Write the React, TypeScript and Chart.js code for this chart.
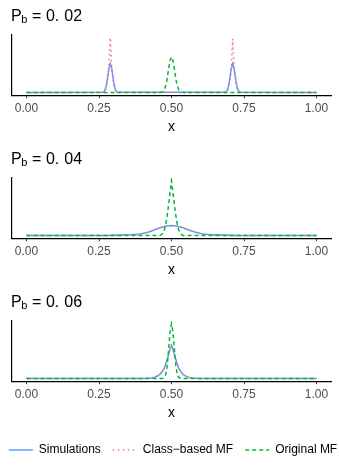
import React, { useEffect, useRef } from "react";
import { Chart, registerables } from "chart.js";

Chart.register(...registerables);

const FONT = "'Liberation Sans', Arial, Helvetica, sans-serif";

const xTicks = [0, 0.25, 0.5, 0.75, 1];
const panelLabels = ["0. 02", "0. 04", "0. 06"];
const seriesNames = ["Simulations", "Class\u2212based MF", "Original MF"];
const seriesColors = ["#619CFF", "#F8766D", "#00BA38"];

// Panel 1 (P_b = 0.02)
const sim1X = [0, 0.264, 0.269, 0.274, 0.279, 0.284, 0.289, 0.294, 0.299, 0.304, 0.309, 0.314, 0.686, 0.691, 0.696, 0.701, 0.706, 0.711, 0.716, 0.721, 0.726, 0.731, 0.736, 1];
const sim1Y = [0, 0.003, 0.026, 0.1, 0.25, 0.436, 0.525, 0.436, 0.25, 0.1, 0.026, 0.003, 0.003, 0.026, 0.1, 0.25, 0.436, 0.525, 0.436, 0.25, 0.1, 0.026, 0.003, 0];
const class1X = [0, 0.264, 0.269, 0.274, 0.279, 0.284, 0.289, 0.294, 0.299, 0.304, 0.309, 0.314, 0.686, 0.691, 0.696, 0.701, 0.706, 0.711, 0.716, 0.721, 0.726, 0.731, 0.736, 1];
const class1Y = [0, 0, 0.02, 0.07, 0.2, 0.45, 1.0, 0.45, 0.2, 0.07, 0.02, 0, 0, 0.02, 0.07, 0.2, 0.45, 0.98, 0.45, 0.2, 0.07, 0.02, 0, 0];
const orig1X = [0, 0.46, 0.465, 0.47, 0.475, 0.48, 0.485, 0.49, 0.495, 0.5, 0.505, 0.51, 0.515, 0.52, 0.525, 0.53, 0.535, 0.54, 1];
const orig1Y = [0, 0, 0.004, 0.016, 0.05, 0.12, 0.25, 0.43, 0.585, 0.65, 0.585, 0.43, 0.25, 0.12, 0.05, 0.016, 0.004, 0, 0];

// Panel 2 (P_b = 0.04)
const sim2X = [0, 0.28, 0.3, 0.32, 0.34, 0.36, 0.38, 0.4, 0.42, 0.44, 0.46, 0.48, 0.5, 0.52, 0.54, 0.56, 0.58, 0.6, 0.62, 0.64, 0.66, 0.68, 0.7, 0.72, 1];
const sim2Y = [0, 0, 0.005, 0.01, 0.012, 0.014, 0.02, 0.035, 0.06, 0.1, 0.14, 0.17, 0.18, 0.17, 0.14, 0.1, 0.062, 0.035, 0.02, 0.014, 0.012, 0.01, 0.005, 0, 0];
const class2X = [0, 0.28, 0.3, 0.32, 0.34, 0.36, 0.38, 0.4, 0.42, 0.44, 0.46, 0.48, 0.5, 0.52, 0.54, 0.56, 0.58, 0.6, 0.62, 0.64, 0.66, 0.68, 0.7, 0.72, 1];
const class2Y = [0, 0, 0, 0, 0.004, 0.008, 0.015, 0.03, 0.06, 0.1, 0.14, 0.165, 0.175, 0.165, 0.14, 0.1, 0.065, 0.035, 0.015, 0.006, 0.002, 0, 0, 0, 0];
const orig2X = [0, 0.455, 0.46, 0.465, 0.47, 0.475, 0.48, 0.485, 0.49, 0.495, 0.5, 0.505, 0.51, 0.515, 0.52, 0.525, 0.53, 0.535, 0.54, 0.545, 1];
const orig2Y = [0, 0, 0, 0.015, 0.04, 0.1, 0.2, 0.36, 0.56, 0.78, 1.0, 0.78, 0.56, 0.36, 0.2, 0.1, 0.04, 0.015, 0, 0, 0];

// Panel 3 (P_b = 0.06)
const sim3X = [0, 0.4, 0.42, 0.43, 0.44, 0.45, 0.46, 0.47, 0.475, 0.48, 0.485, 0.49, 0.495, 0.5, 0.505, 0.51, 0.515, 0.52, 0.525, 0.53, 0.54, 0.55, 0.56, 0.57, 0.58, 0.6, 1];
const sim3Y = [0, 0, 0.004, 0.01, 0.02, 0.04, 0.075, 0.14, 0.19, 0.26, 0.34, 0.44, 0.54, 0.607, 0.54, 0.44, 0.34, 0.26, 0.19, 0.14, 0.075, 0.04, 0.02, 0.01, 0.004, 0, 0];
const class3X = [0, 0.4, 0.42, 0.43, 0.44, 0.45, 0.46, 0.47, 0.475, 0.48, 0.485, 0.49, 0.495, 0.5, 0.505, 0.51, 0.515, 0.52, 0.525, 0.53, 0.54, 0.55, 0.56, 0.57, 0.58, 0.6, 1];
const class3Y = [0, 0, 0.004, 0.01, 0.02, 0.04, 0.075, 0.14, 0.19, 0.26, 0.34, 0.44, 0.53, 0.6, 0.53, 0.44, 0.34, 0.26, 0.19, 0.14, 0.075, 0.04, 0.02, 0.01, 0.004, 0, 0];
const orig3X = [0, 0.46, 0.465, 0.47, 0.475, 0.48, 0.485, 0.49, 0.495, 0.5, 0.505, 0.51, 0.515, 0.52, 0.525, 0.53, 0.535, 0.54, 1];
const orig3Y = [0, 0, 0, 0.005, 0.018, 0.076, 0.23, 0.525, 0.85, 1.0, 0.85, 0.525, 0.23, 0.076, 0.018, 0.005, 0, 0, 0];

const panels = [
  [[sim1X, sim1Y], [class1X, class1Y], [orig1X, orig1Y]],
  [[sim2X, sim2Y], [class2X, class2Y], [orig2X, orig2Y]],
  [[sim3X, sim3Y], [class3X, class3Y], [orig3X, orig3Y]],
];

const dashes = [[], [1.5, 3.5], [4, 3]];
const drawOrder = [3, 2, 1];

const PANEL_H = 143;
const LEGEND_W = 420;
const LEGEND_H = 52;

function toPoints(xs: number[], ys: number[]) {
  return xs.map((x, i) => ({ x, y: ys[i] }));
}

const titlePlugin = {
  id: "panelTitle",
  afterDraw(chart: any, _args: any, opts: any) {
    const ctx = chart.ctx;
    const parts = String(opts.text).split(" ");
    ctx.save();
    ctx.fillStyle = "#000000";
    ctx.textBaseline = "alphabetic";
    ctx.textAlign = "left";
    const base = 20.5;
    ctx.font = `16px ${FONT}`;
    ctx.fillText("P", 11, base);
    const pw = ctx.measureText("P").width;
    ctx.font = `11px ${FONT}`;
    ctx.fillText("b", 10.6 + pw, base + 2.7);
    ctx.font = `16px ${FONT}`;
    ctx.fillText("= " + parts[0], 32.1, base);
    ctx.fillText(parts[1] || "", 64.3, base);
    ctx.restore();
  },
};

function Panel({ label, series, top }: { label: string; series: number[][][]; top: number }) {
  const ref = useRef<HTMLCanvasElement | null>(null);
  useEffect(() => {
    if (!ref.current) return;
    const chart = new Chart(ref.current, {
      type: "line",
      data: {
        datasets: series.map((s, i) => ({
          label: seriesNames[i],
          data: toPoints(s[0], s[1]),
          borderColor: seriesColors[i],
          backgroundColor: seriesColors[i],
          borderWidth: 1.5,
          borderDash: dashes[i],
          borderCapStyle: "butt",
          pointRadius: 0,
          tension: 0,
          fill: false,
          order: drawOrder[i],
        })),
      } as any,
      options: {
        responsive: false,
        animation: false,
        devicePixelRatio: 1,
        events: [],
        layout: { padding: { top: 35, left: 12, right: 8, bottom: 3.6 } },
        plugins: {
          legend: { display: false },
          tooltip: { enabled: false },
          panelTitle: { text: label },
        } as any,
        scales: {
          x: {
            type: "linear",
            min: -0.05,
            max: 1.05,
            afterBuildTicks: (s: any) => {
              s.ticks = xTicks.map((v) => ({ value: v }));
            },
            afterFit: (s: any) => {
              s.paddingLeft = 0;
              s.paddingRight = 0;
            },
            ticks: {
              color: "#4D4D4D",
              font: { size: 12, family: FONT },
              padding: 3,
              maxRotation: 0,
              autoSkip: false,
              callback: (v: any) => Number(v).toFixed(2),
            },
            grid: {
              display: true,
              drawOnChartArea: false,
              drawTicks: true,
              tickLength: 3,
              color: "#333333",
              lineWidth: 1,
            },
            border: { display: true, color: "#000000", width: 1.2 },
            title: {
              display: true,
              text: "x",
              color: "#000000",
              font: { size: 14, family: FONT },
              padding: { top: 0, bottom: 4 },
            },
          },
          y: {
            type: "linear",
            min: -0.05,
            max: 1.05,
            ticks: { display: false },
            grid: { display: false, drawTicks: false },
            border: { display: true, color: "#000000", width: 1.2 },
          },
        } as any,
      },
      plugins: [titlePlugin as any],
    });
    return () => chart.destroy();
  }, [label, series]);
  return (
    <canvas
      ref={ref}
      width={339}
      height={PANEL_H}
      style={{ position: "absolute", left: 0, top, width: 339, height: PANEL_H }}
    />
  );
}

function LegendChart({ top }: { top: number }) {
  const ref = useRef<HTMLCanvasElement | null>(null);
  useEffect(() => {
    if (!ref.current) return;
    const chart = new Chart(ref.current, {
      type: "line",
      data: {
        datasets: seriesNames.map((n, i) => ({
          label: n,
          data: [],
          borderColor: seriesColors[i],
          backgroundColor: "rgba(0,0,0,0)",
          borderWidth: 1.5,
          borderDash: dashes[i],
          borderCapStyle: "butt",
          pointRadius: 0,
        })),
      } as any,
      options: {
        responsive: false,
        animation: false,
        devicePixelRatio: 1,
        events: [],
        layout: { padding: { top: 0 } },
        scales: { x: { display: false }, y: { display: false } },
        plugins: {
          tooltip: { enabled: false },
          legend: {
            display: true,
            position: "top",
            align: "center",
            labels: {
              usePointStyle: true,
              pointStyle: "line",
              pointStyleWidth: 24,
              padding: 12,
              color: "#000000",
              font: { size: 12, family: FONT },
              generateLabels: (c: any) =>
                c.data.datasets.map((ds: any, i: number) => ({
                  text: ds.label,
                  datasetIndex: i,
                  hidden: false,
                  fillStyle: "rgba(0,0,0,0)",
                  strokeStyle: ds.borderColor,
                  lineWidth: 1.5,
                  lineDash: ds.borderDash,
                  lineCap: "butt",
                  pointStyle: "line",
                  fontColor: "#000000",
                })),
            },
          },
        },
      } as any,
    });
    return () => chart.destroy();
  }, []);
  return (
    <canvas
      ref={ref}
      width={LEGEND_W}
      height={LEGEND_H}
      style={{ position: "absolute", left: (339 - LEGEND_W) / 2 + 3, top, width: LEGEND_W, height: LEGEND_H }}
    />
  );
}

export default function App() {
  return (
    <div style={{ position: "absolute", left: 0, top: 0, width: 339, height: 472, background: "#ffffff", overflow: "hidden" }}>
      {panels.map((p, i) => (
        <Panel key={i} label={panelLabels[i]} series={p} top={i * PANEL_H} />
      ))}
      <LegendChart top={432} />
    </div>
  );
}
